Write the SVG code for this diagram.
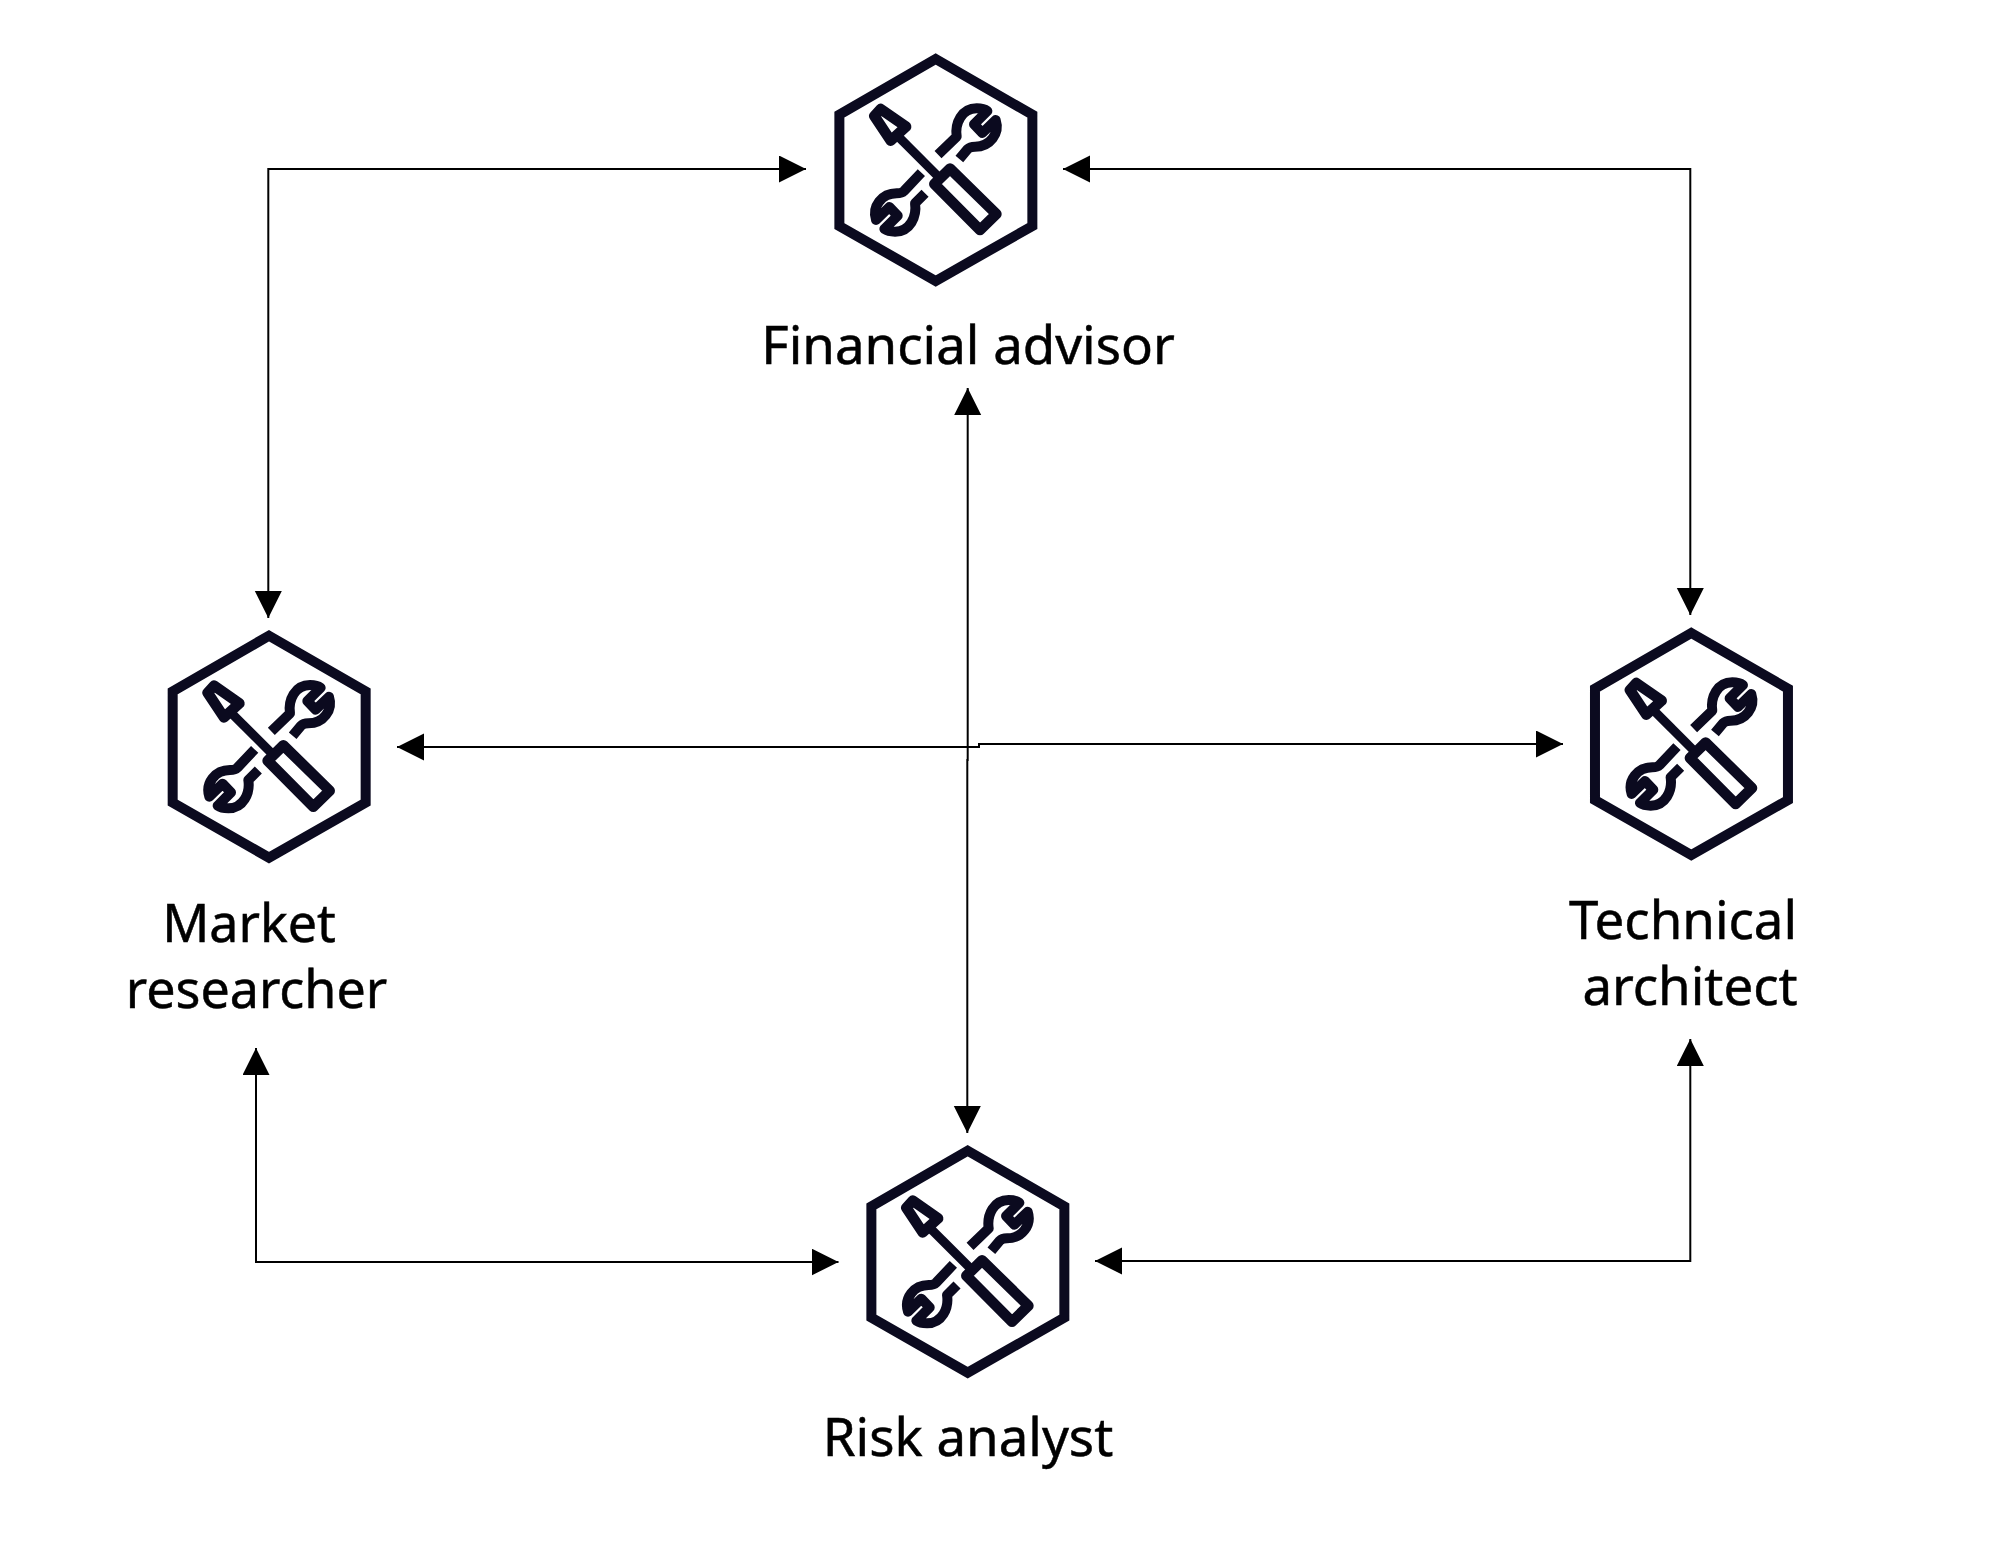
<svg xmlns="http://www.w3.org/2000/svg" width="2007" height="1549" viewBox="0 0 2007 1549">
<style>
.bg{fill:#fff}
.ink{fill:none;stroke:#0b0a1f;stroke-width:30;stroke-linejoin:round}
.shaft{fill:none;stroke:#0b0a1f;stroke-width:27}
.hex{fill:none;stroke:#0b0a1f;stroke-width:30;stroke-linejoin:miter}
.tool{fill:#fff;stroke:#0b0a1f;stroke-width:32;stroke-linejoin:round}
.conn{fill:none;stroke:#000;stroke-width:2}
.lbl{font-family:"Noto Sans","Open Sans",sans-serif;font-size:52.8px;fill:#000;stroke:#000;stroke-width:.5;text-anchor:middle}
.lbl2{font-size:52px}
</style>
<defs>
<marker id="ah" markerUnits="userSpaceOnUse" markerWidth="28" markerHeight="28" refX="27" refY="13.5" orient="auto-start-reverse"><path d="M0 0L27 13.5L0 27Z" fill="#000"/></marker>
<g id="agent" transform="scale(.3333) translate(-407 -420)">
<path class="hex" d="M407 87L697 254V588L407 753L118 588V254Z"/>
<path class="shaft" d="M290 315L420 445"/>
<path class="tool" d="M242 237L318 290L272 332L223 258Z"/>
<path class="tool" d="M450 416L589 552L540 600L403 462Z"/>
<path class="ink" d="M414 374L470 320C464 280 485 235 530 235C545 235 555 238 562 243L522 283L547 309L587 270C600 310 570 350 525 350C515 350 508 352 503 357L478 387"/>
<path class="ink" d="M375 490L345 520C351 560 330 605 285 605C270 605 260 602 253 597L293 557L268 531L228 570C215 530 245 490 290 490C300 490 307 488 312 483L364 428"/>
</g>
</defs>
<rect class="bg" width="2007" height="1549"/>
<g id="connectors">
<path class="conn" marker-start="url(#ah)" marker-end="url(#ah)" d="M268.300 618V169H806"/>
<path class="conn" marker-start="url(#ah)" marker-end="url(#ah)" d="M1063 169H1690.300V615"/>
<path class="conn" marker-start="url(#ah)" marker-end="url(#ah)" d="M256 1048V1262H838.500"/>
<path class="conn" marker-start="url(#ah)" marker-end="url(#ah)" d="M1095 1261H1690.300V1039"/>
<path class="conn" marker-start="url(#ah)" marker-end="url(#ah)" d="M967.700 388V760H967.300V1133"/>
<path class="conn" marker-start="url(#ah)" marker-end="url(#ah)" d="M397 747H979V744H1563"/>
</g>
<g id="financial-advisor"><use href="#agent" transform="translate(935.700 170)"/><text class="lbl" x="968" y="364">Financial advisor</text></g>
<g id="market-researcher"><use href="#agent" transform="translate(269 746.700)"/><text class="lbl lbl2" x="249" y="942">Market</text><text class="lbl lbl2" x="256.500" y="1007.500">researcher</text></g>
<g id="technical-architect"><use href="#agent" transform="translate(1691.300 744)"/><text class="lbl" x="1683" y="939">Technical</text><text class="lbl" x="1690" y="1005">architect</text></g>
<g id="risk-analyst"><use href="#agent" transform="translate(967.700 1261.700)"/><text class="lbl" x="968" y="1456">Risk analyst</text></g>
</svg>
